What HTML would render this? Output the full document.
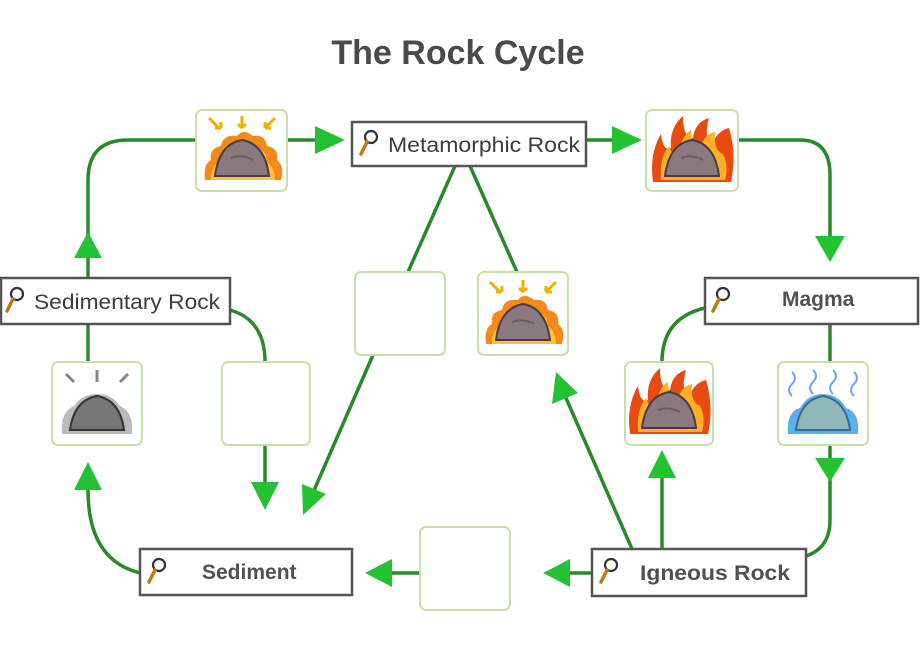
<!DOCTYPE html>
<html><head><meta charset="utf-8"><style>
html,body{margin:0;padding:0;background:#fff;width:920px;height:646px;overflow:hidden}
svg{display:block}
text{font-family:"Liberation Sans",sans-serif;fill:#3c3c3c}
</style></head><body>
<svg width="920" height="646" viewBox="0 0 920 646">
<defs>
<g id="mag"><circle cx="11" cy="9" r="6" fill="#fff" stroke="#333" stroke-width="2.2"/><line x1="7" y1="14" x2="1" y2="26" stroke="#c07a10" stroke-width="3.5" stroke-linecap="round"/></g>
<g id="rock"><path d="M18 62 Q22 30 45 26 Q68 30 72 62 Z" fill="#8a7a80" stroke="#4a3a45" stroke-width="2"/><path d="M34 44 Q45 40 56 46" stroke="#6a5a62" stroke-width="2" fill="none"/></g>
<g id="heat"><path d="M8 66 Q6 50 14 46 Q12 34 24 32 Q26 20 40 22 Q46 14 56 22 Q68 20 70 32 Q82 34 80 46 Q88 52 84 66 Z" fill="#f58a18"/><path d="M14 66 Q14 52 22 48 Q22 36 34 34 Q45 26 58 34 Q70 36 70 48 Q78 54 78 66Z" fill="#ffc23a"/><use href="#rock"/><path d="M12 4 l10 10 M24 14 l-6 0 M24 14 l0 -6 M45 2 v12 M45 14 l-4 -4 M45 14 l4 -4 M78 4 l-10 10 M68 14 l6 0 M68 14 l0 -6" stroke="#f0b000" stroke-width="3" fill="none"/></g>
<g id="fire"><path d="M6 68 Q2 40 14 20 Q16 38 24 34 Q22 14 36 2 Q36 24 46 24 Q48 8 62 4 Q56 26 66 28 Q72 16 82 14 Q90 40 84 68Z" fill="#e84a10"/><path d="M14 66 Q12 44 22 32 Q26 44 32 40 Q34 22 44 16 Q44 34 54 32 Q58 20 68 18 Q66 36 76 40 Q82 52 78 66Z" fill="#ffb020"/><path d="M24 62 Q30 48 40 46 Q50 40 62 48 Q70 52 72 62Z" fill="#ffe070"/><use href="#rock"/></g>
<g id="gray"><path d="M10 66 Q8 44 22 38 Q30 26 45 26 Q60 26 68 38 Q82 44 80 66Z" fill="#bbb"/><path d="M18 62 Q22 32 45 28 Q68 32 72 62 Z" fill="#777" stroke="#333" stroke-width="2"/><path d="M14 6 l8 8 M45 2 v12 M76 6 l-8 8" stroke="#888" stroke-width="3"/></g>
<g id="cold"><path d="M10 66 Q8 44 22 40 Q30 26 45 26 Q60 26 68 40 Q82 44 80 66Z" fill="#5ab0f0"/><path d="M18 62 Q22 32 45 28 Q68 32 72 62 Z" fill="#8fb8b8" stroke="#3a6a8a" stroke-width="2"/><path d="M14 4 q6 6 0 12 q-6 6 0 12 M35 2 q6 6 0 12 q-6 6 0 12 M55 2 q6 6 0 12 q-6 6 0 12 M76 4 q6 6 0 12 q-6 6 0 12" stroke="#6aa8e8" stroke-width="2" fill="none"/></g>
</defs>
<text x="458" y="64" font-size="34" text-anchor="middle" font-weight="bold" style="fill:#4a4a4a">The Rock Cycle</text>

<g stroke="#2a8a2a" stroke-width="3.5" fill="none">
<path d="M88 278 V180 Q88 140 128 140 H196"/>
<path d="M287 140 H320"/>
<path d="M586 140 H615"/>
<path d="M738 140 H800 Q830 140 830 175 V240"/>
<path d="M705 308 Q662 318 662 362"/>
<path d="M830 324 V362 M830 445 V470 V520 Q830 548 806 556"/>
<path d="M662 549 V475"/>
<path d="M632 549 L566 398"/>
<path d="M592 573 H570 M420 573 H392"/>
<path d="M140 573 Q88 560 88 490"/>
<path d="M88 362 V324"/>
<path d="M230 310 Q265 320 265 362 M265 445 V485"/>
<path d="M455 166 L408 272 M373 355 L312 495"/>
<path d="M470 166 L517 272"/>
</g>
<g fill="#22c232">
<polygon points="88,232 74,258 102,258"/>
<polygon points="345,140 315,126 315,154"/>
<polygon points="642,140 612,126 612,154"/>
<polygon points="830,262 815,236 845,236"/>
<polygon points="830,482 815,458 845,458"/>
<polygon points="662,450 648,478 676,478"/>
<polygon points="556,372 552,404 578,393"/>
<polygon points="543,573 570,559 570,587"/>
<polygon points="365,573 392,559 392,587"/>
<polygon points="88,462 74,490 102,490"/>
<polygon points="265,510 251,482 279,482"/>
<polygon points="303,515 302,484 326,494"/>
</g>

<g fill="#fff" stroke="#c8e0a8" stroke-width="2">
<rect x="196" y="110" width="91" height="81" rx="6"/>
<rect x="646" y="110" width="92" height="81" rx="6"/>
<rect x="355" y="272" width="90" height="83" rx="6"/>
<rect x="478" y="272" width="90" height="83" rx="6"/>
<rect x="52" y="362" width="90" height="83" rx="6"/>
<rect x="222" y="362" width="88" height="83" rx="6"/>
<rect x="625" y="362" width="88" height="83" rx="6"/>
<rect x="778" y="362" width="90" height="83" rx="6"/>
<rect x="420" y="527" width="90" height="83" rx="6"/>
</g>
<use href="#heat" x="197" y="114"/>
<use href="#fire" x="647" y="114"/>
<use href="#heat" x="478" y="278"/>
<use href="#gray" x="52" y="368"/>
<use href="#fire" x="624" y="366"/>
<use href="#cold" x="778" y="368"/>

<g fill="#fff" stroke="#555" stroke-width="2.5">
<rect x="352" y="122" width="234" height="44"/>
<rect x="1" y="278" width="229" height="46"/>
<rect x="705" y="278" width="213" height="46"/>
<rect x="140" y="549" width="212" height="46"/>
<rect x="592" y="549" width="214" height="47"/>
</g>
<use href="#mag" x="360" y="128"/>
<use href="#mag" x="6" y="285"/>
<use href="#mag" x="712" y="285"/>
<use href="#mag" x="148" y="556"/>
<use href="#mag" x="600" y="556"/>
<g font-size="21" textLength="">
<text x="388" y="152" textLength="192" lengthAdjust="spacingAndGlyphs">Metamorphic Rock</text>
<text x="34" y="309" textLength="186" lengthAdjust="spacingAndGlyphs">Sedimentary Rock</text>
<text x="782" y="306" font-weight="bold" style="fill:#505050">Magma</text>
<text x="202" y="579" font-weight="bold" style="fill:#505050">Sediment</text>
<text x="640" y="580" textLength="150" lengthAdjust="spacingAndGlyphs" font-weight="bold" style="fill:#505050">Igneous Rock</text>
</g>
</svg>
</body></html>
